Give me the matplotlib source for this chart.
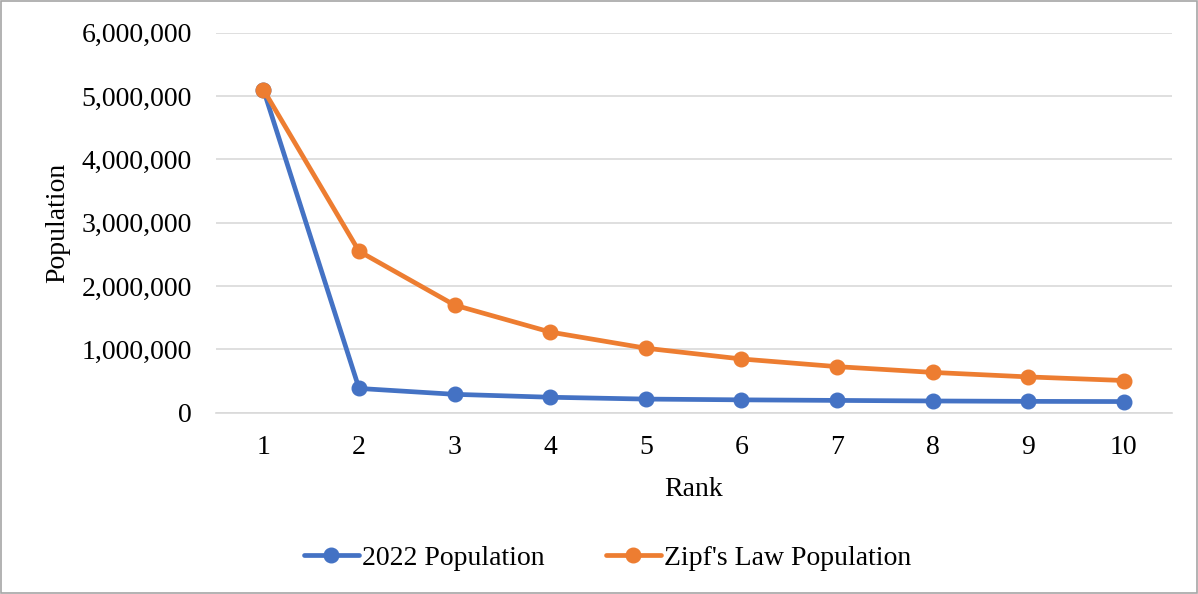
import matplotlib.pyplot as plt
from matplotlib.ticker import FuncFormatter

plt.rcParams['font.family'] = ['Liberation Serif', 'DejaVu Serif']

# Data
ranks = [1, 2, 3, 4, 5, 6, 7, 8, 9, 10]
pop_2022 = [5100000, 385000, 292000, 246000, 217000, 205000, 196000, 187000, 181000, 178000]
pop_zipf = [5100000, 2550000, 1700000, 1275000, 1020000, 850000, 729000, 638000, 567000, 510000]
yticks = [0, 1000000, 2000000, 3000000, 4000000, 5000000, 6000000]

fig = plt.figure(figsize=(11.98, 5.94), dpi=100)
ax = fig.add_axes([0.180, 0.305, 0.798, 0.640])

ax.plot(ranks, pop_2022, color='#4472C4', linewidth=3.4, marker='o', markersize=10.5,
        label='2022 Population', solid_capstyle='round')
ax.plot(ranks, pop_zipf, color='#ED7D31', linewidth=3.4, marker='o', markersize=10.5,
        label="Zipf's Law Population", solid_capstyle='round')

ax.set_xlim(0.5, 10.5)
ax.set_ylim(0, 6000000)
ax.set_xticks(ranks)
ax.set_yticks(yticks)
ax.yaxis.set_major_formatter(FuncFormatter(lambda v, p: f'{int(v):,}'))
ax.tick_params(length=0, labelsize=20)
ax.tick_params(axis='y', pad=17)
ax.tick_params(axis='x', pad=16)
ax.grid(axis='y', color='#D9D9D9', linewidth=1.2)
ax.set_axisbelow(True)
for s in ['top', 'right', 'left']:
    ax.spines[s].set_visible(False)
ax.spines['bottom'].set_color('#D9D9D9')
ax.spines['bottom'].set_linewidth(1.2)

ax.set_xlabel('Rank', fontsize=20, labelpad=12)
ax.set_ylabel('Population', fontsize=20, labelpad=8)

fig.legend(loc='center', bbox_to_anchor=(0.507, 0.060), ncol=2, frameon=False,
           fontsize=20, handlelength=2.0, columnspacing=2.2, handletextpad=0.1)

fig.patches.append(plt.Rectangle((0.001, 0.001), 0.998, 0.997, transform=fig.transFigure,
                                 fill=False, edgecolor='#A6A6A6', linewidth=1.2))

fig.savefig('out.png', dpi=100)
